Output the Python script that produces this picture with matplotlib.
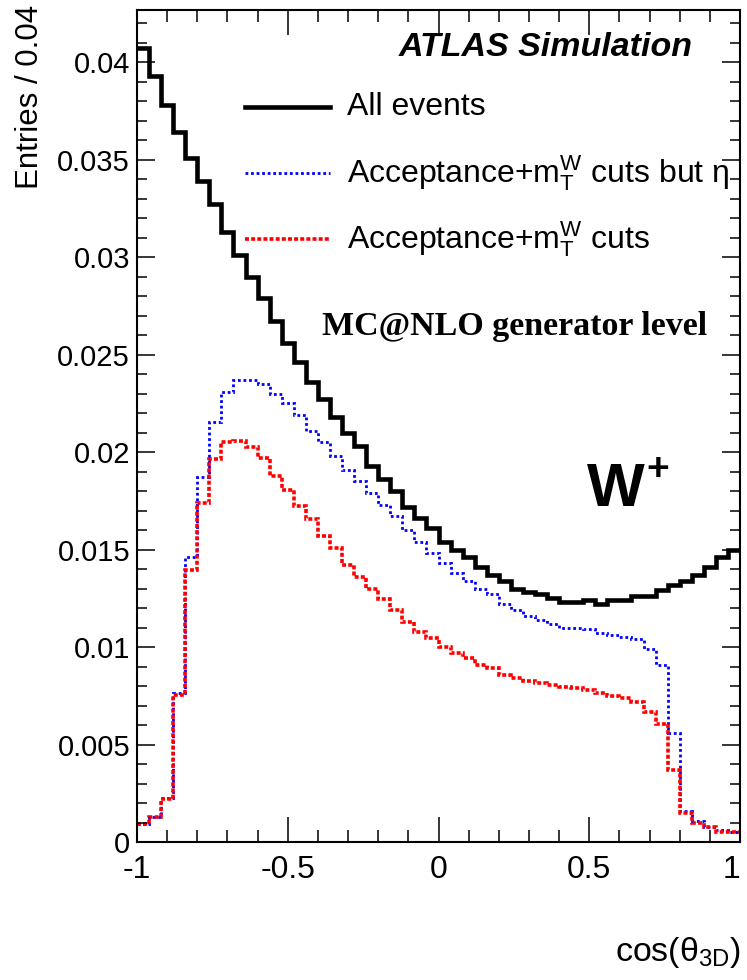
import matplotlib
matplotlib.use('Agg')
import matplotlib.pyplot as plt
import numpy as np
from matplotlib.lines import Line2D

# cos(theta_3D) distributions, 50 bins in [-1, 1], normalised to unit area
n_bins = 50
x_lo, x_hi = -1.0, 1.0

all_events = [
    0.0407, 0.0393, 0.0378, 0.0364, 0.0351, 0.0339, 0.0327, 0.0313, 0.0301, 0.0290,
    0.0279, 0.0267, 0.0256, 0.0246, 0.0236, 0.0227, 0.0218, 0.0210, 0.0203, 0.0193,
    0.0186, 0.0180, 0.0172, 0.0166, 0.0161, 0.0154, 0.0150, 0.0146, 0.0141, 0.0137,
    0.0134, 0.0130, 0.0128, 0.0127, 0.0125, 0.0123, 0.0123, 0.0124, 0.0122, 0.0124,
    0.0124, 0.0126, 0.0126, 0.0129, 0.0132, 0.0134, 0.0137, 0.0141, 0.0146, 0.0150,
]
acc_no_eta = [
    0.00092, 0.00130, 0.00225, 0.00766, 0.01463, 0.01873, 0.02155, 0.02310, 0.02370, 0.02370,
    0.02350, 0.02300, 0.02250, 0.02190, 0.02110, 0.02050, 0.01980, 0.01910, 0.01850, 0.01790,
    0.01730, 0.01670, 0.01600, 0.01540, 0.01480, 0.01430, 0.01380, 0.01340, 0.01300, 0.01270,
    0.01220, 0.01190, 0.01160, 0.01140, 0.01120, 0.01100, 0.01100, 0.01090, 0.01070, 0.01060,
    0.01050, 0.01040, 0.00990, 0.00910, 0.00560, 0.00160, 0.00110, 0.00075, 0.00060, 0.00053,
]
acc_cuts = [
    0.00090, 0.00127, 0.00219, 0.00752, 0.01395, 0.01737, 0.01962, 0.02051, 0.02055, 0.02027,
    0.01967, 0.01877, 0.01805, 0.01723, 0.01655, 0.01569, 0.01506, 0.01420, 0.01361, 0.01296,
    0.01244, 0.01190, 0.01130, 0.01079, 0.01044, 0.01002, 0.00967, 0.00942, 0.00910, 0.00890,
    0.00856, 0.00839, 0.00827, 0.00814, 0.00805, 0.00793, 0.00788, 0.00780, 0.00762, 0.00749,
    0.00737, 0.00720, 0.00668, 0.00605, 0.00369, 0.00147, 0.00096, 0.00075, 0.00053, 0.00053,
]

legend_labels = [
    'All events',
    'Acceptance+m$_{\\mathrm{T}}^{\\mathrm{W}}$ cuts but η',
    'Acceptance+m$_{\\mathrm{T}}^{\\mathrm{W}}$ cuts',
]
x_ticks = [-1, -0.5, 0, 0.5, 1]
x_tick_labels = ['-1', '-0.5', '0', '0.5', '1']
y_ticks = [0, 0.005, 0.01, 0.015, 0.02, 0.025, 0.03, 0.035, 0.04]
y_tick_labels = ['0', '0.005', '0.01', '0.015', '0.02', '0.025', '0.03', '0.035', '0.04']

sans = 'Liberation Sans'
plt.rcParams['font.family'] = [sans, 'DejaVu Sans']
plt.rcParams['mathtext.fontset'] = 'custom'
plt.rcParams['mathtext.rm'] = sans
plt.rcParams['mathtext.it'] = sans + ':italic'
plt.rcParams['mathtext.bf'] = sans + ':bold'

W, H = 747, 980
fig = plt.figure(figsize=(W / 100, H / 100), dpi=100)
ax = fig.add_axes([137 / W, 1 - 842 / H, (740 - 137) / W, (842 - 10) / H])

edges = np.linspace(x_lo, x_hi, n_bins + 1)
blue_style = dict(color='#0000ff', lw=2.0, linestyle=(0, (1.0, 1.0)))
red_style = dict(color='#ff0000', lw=2.6, linestyle=(0, (1.1, 0.6)))
black_style = dict(color='black', lw=3.3, linestyle='-')

ax.stairs(acc_no_eta, edges, baseline=None, **blue_style)
ax.stairs(acc_cuts, edges, baseline=None, **red_style)
ax.stairs(all_events, edges, baseline=None, **black_style)

ax.set_xlim(x_lo, x_hi)
ax.set_ylim(0, 0.04267)
ax.set_xticks(x_ticks, x_tick_labels)
ax.set_yticks(y_ticks, y_tick_labels)
ax.xaxis.set_minor_locator(plt.MultipleLocator(0.1))
ax.yaxis.set_minor_locator(plt.MultipleLocator(0.001))
ax.tick_params(which='both', direction='in', top=True, right=True, width=1.1)
ax.tick_params(axis='x', which='major', length=18, pad=9, labelsize=23)
ax.tick_params(axis='x', which='minor', length=8.5)
ax.tick_params(axis='y', which='major', length=13, pad=5, labelsize=21)
ax.tick_params(axis='y', which='minor', length=7)
ax.get_xticklabels()[-1].set_horizontalalignment('right')
for s in ax.spines.values():
    s.set_linewidth(1.5)

# legend drawn by hand, ROOT style
for i, (lab, st) in enumerate(zip(legend_labels, [black_style, blue_style, red_style])):
    y = 1 - (107 + 66 * i) / H
    fig.add_artist(Line2D([245 / W, 330 / W], [y, y], transform=fig.transFigure, **st))
    fig.text(347 / W, y, lab, fontsize=23, va='center', ha='left')

fig.text(399 / W, 1 - 48 / H, 'ATLAS Simulation', fontsize=24.5, weight='bold',
         style='italic', va='center', ha='left')
fig.text(322 / W, 1 - 327 / H, 'MC@NLO generator level', fontsize=24.5, weight='bold',
         family='Liberation Serif', va='center', ha='left')
fig.text(616 / W, 1 - 490 / H, 'W', fontsize=44, weight='bold', va='center', ha='center')
fig.text(658 / W, 1 - 470 / H, '+', fontsize=28, weight='bold', va='center', ha='center')

fig.text(30 / W, 1 - 5 / H, 'Entries / 0.04', fontsize=22.5, rotation=90, va='top', ha='center')
fig.text(741 / W, 1 - 952 / H, 'cos(θ$_{\\mathrm{3D}}$)', fontsize=24.5, va='center', ha='right')

fig.savefig('out.png', dpi=100)
